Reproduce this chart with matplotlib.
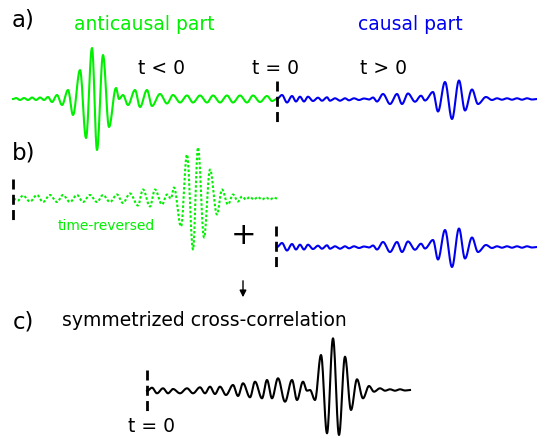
import numpy as np
import matplotlib
matplotlib.use("Agg")
import matplotlib.pyplot as plt

# extrema of each trace
# time in pixels relative to t = 0, amplitude in pixels (positive = up)
anticausal_t = [-264, -261, -257, -253, -249, -245, -241, -237, -233, -229, -225, -220,
                -215, -209, -204, -197, -191, -185, -180, -174, -168, -161, -158, -154,
                -149, -142, -137, -130, -125, -117, -110, -104, -97, -90, -84, -77,
                -70, -64, -57, -50, -44, -37, -30, -24, -17, -10, -5, 0]
anticausal_amp = [0, 1, -1, 1, -1, 1.5, -1, 1.5, -1, 2, -3, 4,
                  -6, 9, -16, 29, -39, 51, -51, 44, -28, 11, 0, 4,
                  -6, 9, -8, 9, -7, 5, -4.5, 4, -3.5, 3.5, -3.5, 3.5,
                  -3.5, 3.5, -3.5, 3.5, -3.5, 3.5, -3.5, 3.5, -3, 3, -2, 0]

causal_t = [0, 5, 10, 15, 19, 23, 27, 31, 36, 41, 45, 50, 53, 58, 63, 68, 72,
            77, 82, 87, 92, 96, 100, 106, 113, 120, 125, 131, 138, 144, 148, 156,
            161, 168, 175, 182, 188, 195, 201, 209, 215, 220, 225, 230, 235, 240,
            245, 250, 255, 260]
causal_amp = [0, 4, -3.5, 3, -2.5, 2.3, -2.5, 2.3, -2, 1.3, -1.7, 1.7, -1.7, 0.7, -1.7, 0.7, -1.3,
              0.7, -1, 0.5, -0.5, 1.5, -2.5, 5, -5, 5, -5, 5.5, -2.7, 3.3, -1.5, 7,
              -12.5, 17, -20, 18.5, -11.5, 9.5, -5, 2, -1, 0.7, -0.7, 0.7, -0.7, 0.7,
              -0.7, 0.7, -0.5, 0]

symmetric_t = [0, 5, 10, 16, 21, 26, 33, 40, 46, 53, 58, 63, 68, 73, 79, 86,
               91, 96, 103, 108, 115, 120, 125, 131, 138, 145, 150, 156, 160, 163, 168, 174,
               180, 186, 192, 198, 204, 210, 216, 222, 227, 233, 238, 243, 248, 253, 258, 263]
symmetric_amp = [0, 3.3, -2.3, 2.7, -2.3, 2, -2.3, 2.7, -2.3, 3.7, -2.3, 4.3, -3, 4.3, -4, 6,
                 -5, 7.7, -6.3, 9.3, -7.3, 11, -7.3, 12.7, -10.7, 11, -9, 9.3, 0.3, 1, -9, 36,
                 -42.3, 52.7, -44, 34.3, -19, 11.7, -7.3, 5, -0.7, 2.7, 0.3, 1.7, 0.3, 1.7, 0.5, 1]

GREEN = "#00f000"
BLUE = "#0000f0"


def smooth_trace(times, amps, n=16):
    # half-cosine between neighbouring extrema
    xs, ys = [], []
    for i in range(len(times) - 1):
        s = np.linspace(0, 1, n, endpoint=False)
        xs.append(times[i] + (times[i + 1] - times[i]) * s)
        ys.append(amps[i] + (amps[i + 1] - amps[i]) * (1 - np.cos(np.pi * s)) / 2)
    xs.append([times[-1]])
    ys.append([amps[-1]])
    return np.concatenate(xs), np.concatenate(ys)


fig = plt.figure(figsize=(5.37, 4.38), dpi=100)
ax = fig.add_axes([0, 0, 1, 1])
ax.set_xlim(0, 537)
ax.set_ylim(438, 0)
ax.axis("off")

ac_x, ac_y = smooth_trace(anticausal_t, anticausal_amp)
c_x, c_y = smooth_trace(causal_t, causal_amp)
s_x, s_y = smooth_trace(symmetric_t, symmetric_amp)

dash = (0, (3.6, 1.9))

# a) full cross-correlation
ax.plot(277 + ac_x, 99 - ac_y, color=GREEN, lw=1.5)
ax.plot(277 + c_x, 99 - c_y, color=BLUE, lw=1.5)
ax.plot([277, 277], [81, 123], color="black", lw=2, ls=dash)

# b) time-reversed anticausal part + causal part
ax.plot(13 - ac_x, 198.5 - ac_y, color=GREEN, lw=1.5, ls=(0, (1.2, 1.0)))
ax.plot([13, 13], [179, 220], color="black", lw=2, ls=dash)
ax.plot(277 + c_x, 247 - c_y, color=BLUE, lw=1.5)
ax.plot([276, 276], [226, 267], color="black", lw=2, ls=dash)

# c) symmetrized
ax.plot(147 + s_x, 391 - s_y, color="black", lw=1.5)
ax.plot([147, 147], [370, 411], color="black", lw=2, ls=dash)

fs = 13.5
ax.text(12, 20, "a)", fontsize=16.5, va="center", ha="left")
ax.text(12, 153, "b)", fontsize=16.5, va="center", ha="left")
ax.text(13, 322, "c)", fontsize=16.5, va="center", ha="left")

ax.text(144, 25, "anticausal part", color=GREEN, fontsize=fs, ha="center", va="center")
ax.text(410, 25, "causal part", color=BLUE, fontsize=fs, ha="center", va="center")
ax.text(161, 68, "t < 0", fontsize=fs, ha="center", va="center")
ax.text(276, 68, "t = 0", fontsize=fs, ha="center", va="center")
ax.text(384, 68, "t > 0", fontsize=fs, ha="center", va="center")
ax.text(106, 226, "time-reversed", color=GREEN, fontsize=10, ha="center", va="center")
ax.text(244, 235, "+", fontsize=22, ha="center", va="center")
ax.text(204, 320, "symmetrized cross-correlation", fontsize=fs, ha="center", va="center")
ax.text(152, 427, "t = 0", fontsize=fs, ha="center", va="center")

ax.annotate("", xy=(243, 300), xytext=(243, 278),
            arrowprops=dict(arrowstyle="-|>", color="black", lw=1, mutation_scale=10))

fig.savefig("out.png", dpi=100)
